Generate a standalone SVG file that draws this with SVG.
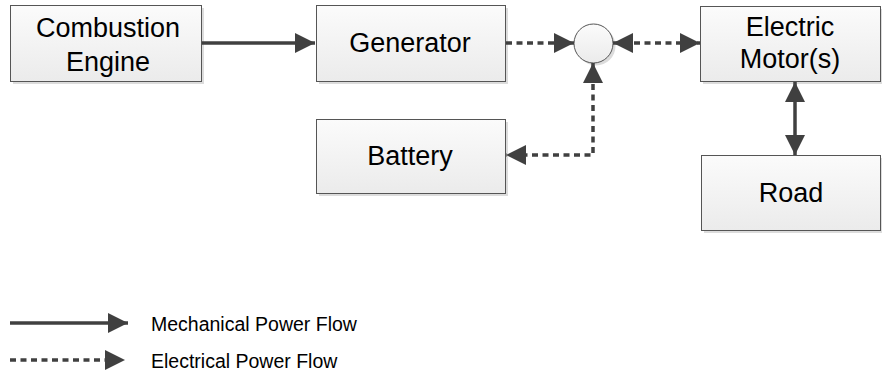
<svg xmlns="http://www.w3.org/2000/svg" width="882" height="372" viewBox="0 0 882 372">
<style>
.box{stroke:#555555;stroke-width:1;fill:url(#g)}
.sh{fill:#dcdcdc}
.t{font-family:"Liberation Sans",Arial,sans-serif;font-size:27px;fill:#000;text-anchor:middle}
.lt{font-family:"Liberation Sans",Arial,sans-serif;font-size:19.5px;fill:#000}
.s{stroke:#404040;stroke-width:3.5;fill:none}
.d{stroke:#404040;stroke-width:3.5;fill:none;stroke-dasharray:6 4.5}
</style>
<defs>
<linearGradient id="g" x1="0" y1="0" x2="0" y2="1">
<stop offset="0" stop-color="#fbfbfb"/>
<stop offset="1" stop-color="#ebebeb"/>
</linearGradient>
<marker id="a" markerUnits="userSpaceOnUse" markerWidth="20" markerHeight="20" refX="20" refY="10" orient="auto-start-reverse" viewBox="0 0 20 20">
<path d="M0,0 L20,10 L0,20 z" fill="#404040"/>
</marker>
</defs>
<g id="combustion">
<rect class="sh" x="13" y="8" width="191" height="76"/>
<rect class="box" x="10.5" y="5.5" width="191" height="76"/>
<text class="t" x="108" y="37">Combustion</text>
<text class="t" x="108" y="71">Engine</text>
</g>
<g id="generator">
<rect class="sh" x="319" y="8" width="189" height="76"/>
<rect class="box" x="316.5" y="5.5" width="189" height="76"/>
<text class="t" x="410" y="52">Generator</text>
</g>
<g id="junction">
<circle cx="596" cy="46" r="19.5" fill="#dcdcdc"/>
<circle cx="593.5" cy="43.5" r="19.5" fill="url(#g)" stroke="#555555" stroke-width="1"/>
</g>
<g id="motor">
<rect class="sh" x="703" y="9" width="181" height="75"/>
<rect class="box" x="700.5" y="6.5" width="180" height="75"/>
<text class="t" x="790" y="36">Electric</text>
<text class="t" x="790" y="68">Motor(s)</text>
</g>
<g id="battery">
<rect class="sh" x="319" y="122" width="189" height="74"/>
<rect class="box" x="316.5" y="119.5" width="189" height="74"/>
<text class="t" x="410" y="165">Battery</text>
</g>
<g id="road">
<rect class="sh" x="704" y="158" width="180" height="75"/>
<rect class="box" x="701.5" y="155.5" width="179" height="75"/>
<text class="t" x="791" y="202">Road</text>
</g>
<g id="connectors">
<line class="s" x1="202" y1="43" x2="315" y2="43" marker-end="url(#a)"/>
<line class="d" x1="506" y1="43" x2="574" y2="43" marker-end="url(#a)"/>
<line class="d" x1="613" y1="43" x2="700" y2="43" marker-start="url(#a)" marker-end="url(#a)"/>
<polyline class="d" points="593,63 593,155 506,155" marker-start="url(#a)" marker-end="url(#a)"/>
<line class="s" x1="795" y1="82" x2="795" y2="155" marker-start="url(#a)" marker-end="url(#a)"/>
</g>
<g id="legend">
<line class="s" x1="10" y1="323" x2="128" y2="323" marker-end="url(#a)"/>
<text class="lt" x="151" y="331">Mechanical Power Flow</text>
<line class="d" x1="10" y1="360" x2="125" y2="360" marker-end="url(#a)"/>
<text class="lt" x="151" y="368">Electrical Power Flow</text>
</g>
</svg>
